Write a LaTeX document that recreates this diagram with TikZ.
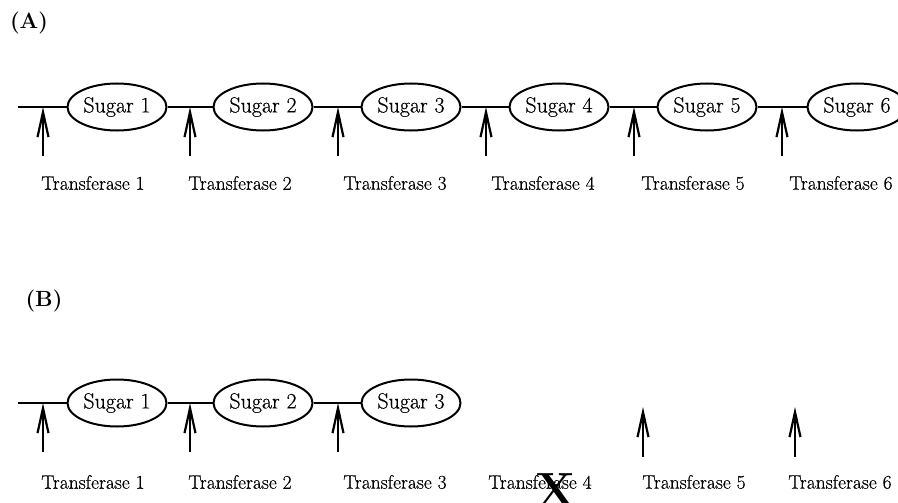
\documentclass[tikz,border=0pt]{standalone}
\usepackage{fontspec}
\newfontfamily\lblfont[FakeBold=0.4]{Latin Modern Roman}
\usetikzlibrary{shapes.geometric,arrows.meta}
\begin{document}
\begin{tikzpicture}[x=1pt,y=-1pt,
  sugar/.style={draw,ellipse,line width=2pt,minimum width=99pt,minimum height=47pt,inner sep=0pt,font=\lblfont\fontsize{22}{24}\selectfont},
  chain/.style={line width=2.4pt},
  enz/.style={line width=2.4pt,-{Straight Barb[length=25pt,width=11pt,line width=2.2pt]}},
  tlabel/.style={font=\lblfont\fontsize{19.5}{21}\selectfont},
  panel/.style={font=\fontsize{22}{24}\selectfont\bfseries}]
\useasboundingbox (0,0) rectangle (898,503);
% Panel A
\node[panel] (pa) at (29,23) {(A)};
\coordinate (a0) at (18,107);
\foreach \i/\x in {1/117,2/263,3/411,4/559,5/707,6/857}{
  \node[sugar] (as\i) at (\x,107) {Sugar \i};
}
\draw[chain] (a0) -- (as1.west);
\draw[chain] (as1.east) -- (as2.west);
\draw[chain] (as2.east) -- (as3.west);
\draw[chain] (as3.east) -- (as4.west);
\draw[chain] (as4.east) -- (as5.west);
\draw[chain] (as5.east) -- (as6.west);
\foreach \i/\x/\l in {1/43/93,2/190/240,3/338/395,4/486/543,5/634/693,6/782/841}{
  \coordinate (at\i) at (\x,107);
  \coordinate (ab\i) at (\x,156);
  \draw[enz] (ab\i) -- (at\i);
  \node[tlabel] (al\i) at (\l,183) {Transferase \i};
}
% Panel B
\node[panel] (pb) at (44,301) {(B)};
\coordinate (b0) at (18,403);
\foreach \i/\x in {1/117,2/263,3/411}{
  \node[sugar] (bs\i) at (\x,403) {Sugar \i};
}
\draw[chain] (b0) -- (bs1.west);
\draw[chain] (bs1.east) -- (bs2.west);
\draw[chain] (bs2.east) -- (bs3.west);
\foreach \i/\x in {1/43,2/190,3/338}{
  \coordinate (bt\i) at (\x,403);
  \coordinate (bb\i) at (\x,452);
  \draw[enz] (bb\i) -- (bt\i);
}
\foreach \i/\x in {5/643,6/795}{
  \coordinate (bt\i) at (\x,407);
  \coordinate (bb\i) at (\x,457);
  \draw[enz] (bb\i) -- (bt\i);
}
\foreach \i/\l in {1/93,2/240,3/395,4/540,5/694,6/840}{
  \node[tlabel] (bl\i) at (\l,482) {Transferase \i};
}
\node[font=\fontsize{48}{48}\selectfont\bfseries] (xmark) at (556,490) {X};
\end{tikzpicture}
\end{document}
